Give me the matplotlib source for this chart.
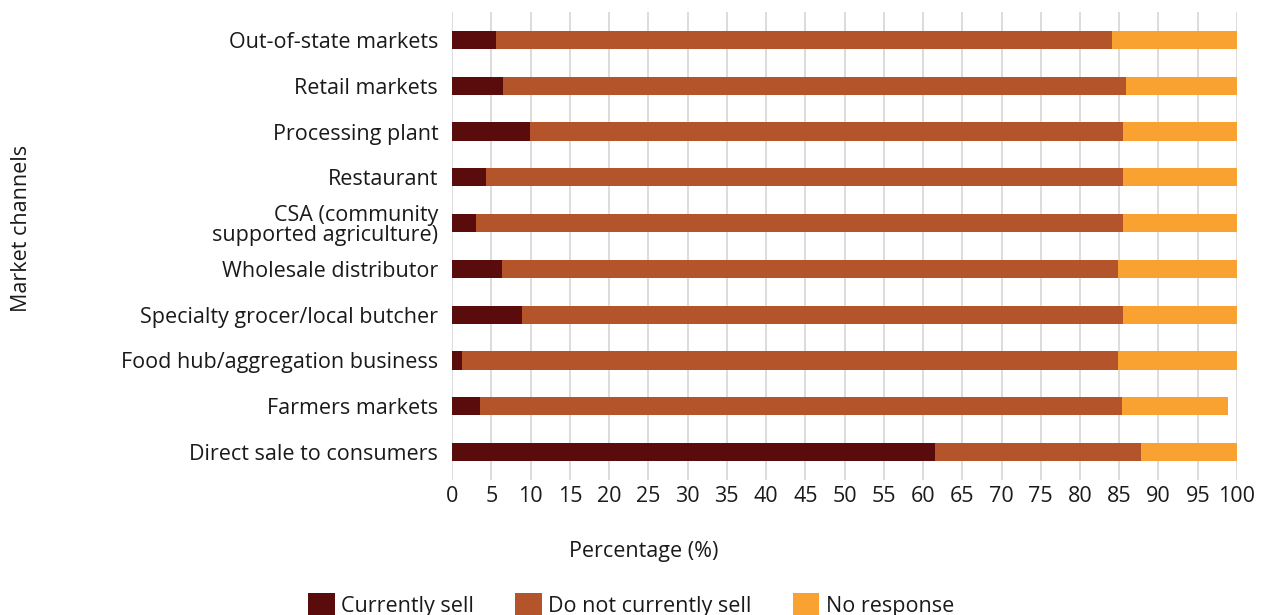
import matplotlib
matplotlib.use("Agg")
import matplotlib.pyplot as plt
import numpy as np
from matplotlib.patches import Patch

plt.rcParams['font.family'] = ['Open Sans', 'DejaVu Sans']

# market channels, listed top to bottom
channels = [
    'Out-of-state markets',
    'Retail markets',
    'Processing plant',
    'Restaurant',
    'CSA (community\nsupported agriculture)',
    'Wholesale distributor',
    'Specialty grocer/local butcher',
    'Food hub/aggregation business',
    'Farmers markets',
    'Direct sale to consumers',
]
currently_sell = [5.6, 6.5, 9.9, 4.3, 3.0, 6.3, 8.9, 1.3, 3.5, 61.5]
not_currently_sell = [78.5, 79.3, 75.6, 81.2, 82.5, 78.5, 76.6, 83.5, 81.9, 26.3]
no_response = [15.9, 14.2, 14.5, 14.5, 14.5, 15.2, 14.5, 15.2, 13.5, 12.2]
series_names = ['Currently sell', 'Do not currently sell', 'No response']
colors = ['#5a0c0c', '#b3542a', '#f9a232']

fs = 15.5
txt = '#1a1a1a'

fig = plt.figure(figsize=(12.67, 6.15), dpi=100)
ax = fig.add_axes([0.3568, 0.2203, 0.6195, 0.7594])

y = np.arange(len(channels))
left = np.zeros(len(channels))
for vals, c in zip([currently_sell, not_currently_sell, no_response], colors):
    ax.barh(y, vals, left=left, height=0.4, color=c, zorder=3)
    left += np.array(vals)

ax.set_ylim(9.6, -0.6)
ax.set_xlim(0, 100)
ax.set_xticks(np.arange(0, 101, 5))
ax.set_yticks(y)
ax.set_yticklabels(channels, fontsize=fs, color=txt, linespacing=0.95)
ax.tick_params(axis='x', labelsize=fs, labelcolor=txt, length=0, pad=5)
ax.tick_params(axis='y', length=0, pad=10)
ax.grid(axis='x', color='#d9d9d9', linewidth=1.3, zorder=0)
for s in ax.spines.values():
    s.set_visible(False)

fig.text(22 / 1267, 1 - 228 / 615, 'Market channels', rotation=90,
         ha='center', va='center', fontsize=fs, color=txt)
fig.text(644 / 1267, 1 - 551 / 615, 'Percentage (%)',
         ha='center', va='center', fontsize=fs, color=txt)

handles = [Patch(facecolor=c) for c in colors]
fig.legend(handles, series_names, loc='center', ncol=3, frameon=False,
           bbox_to_anchor=(631 / 1267, 1 - 605 / 615), fontsize=fs,
           handlelength=1.25, handleheight=1.25, handletextpad=0.3,
           columnspacing=1.9, labelcolor=txt, borderpad=0.2)

fig.savefig('out.png', dpi=100)
